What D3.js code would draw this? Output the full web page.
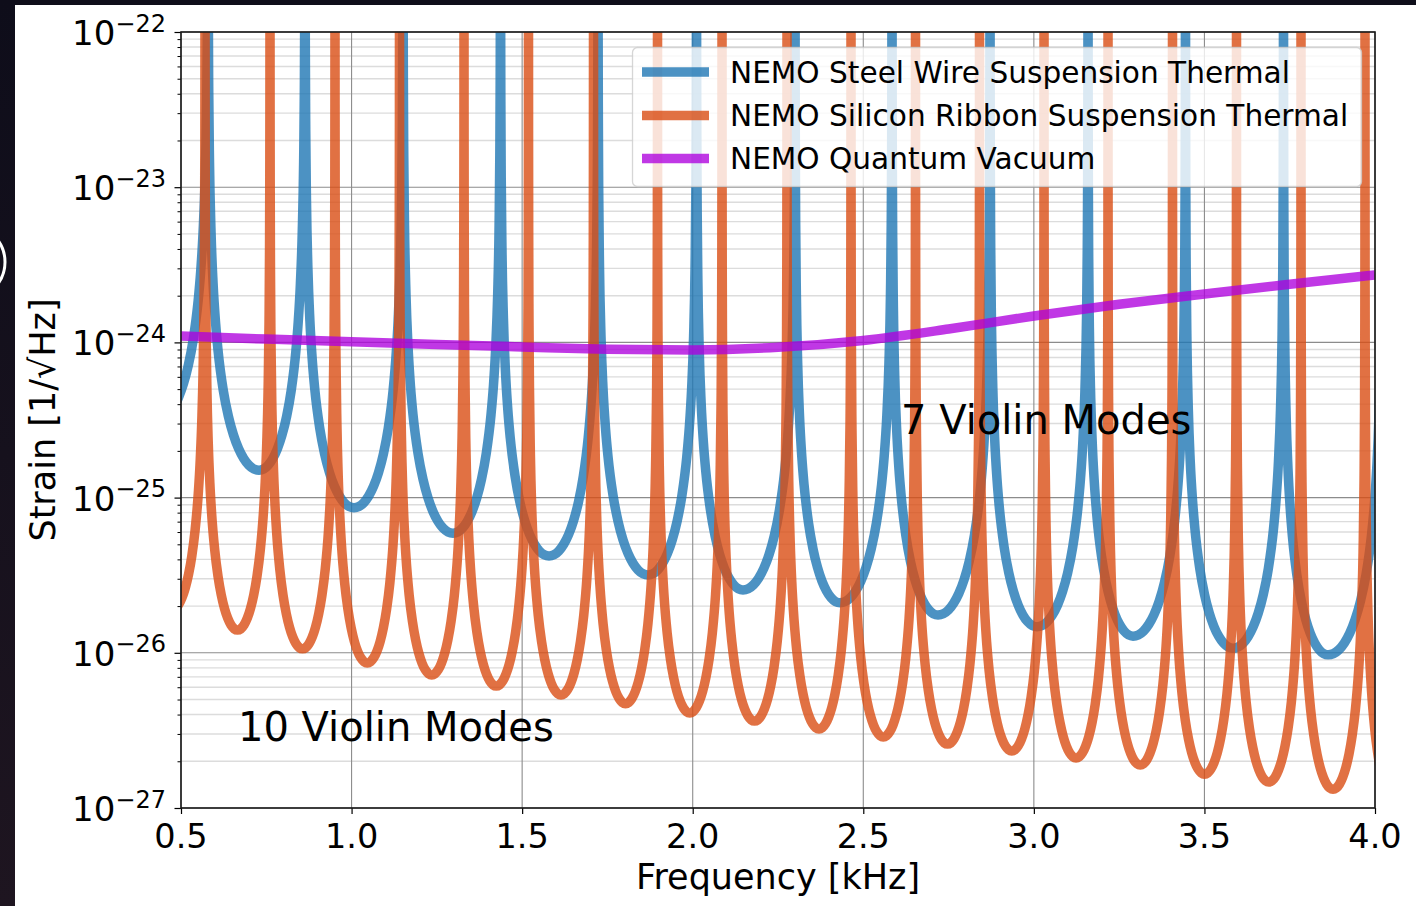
<!DOCTYPE html>
<html>
<head>
<meta charset="utf-8">
<script src="https://cdn.jsdelivr.net/npm/d3@7"></script>
<style>
  html, body { margin: 0; padding: 0; background: #ffffff; }
  svg { display: block; }
  text { font-family: "DejaVu Sans", sans-serif; fill: #000; }
</style>
</head>
<body>
<svg id="chart" width="1416" height="906"></svg>
<script>
// ---- data (frequency in kHz, strain in 1/sqrt(Hz)) ----
// Steel wire violin modes (peak frequencies)
const steelModes = [0.2872, 0.5791, 0.8635, 1.1508, 1.4366, 1.7224, 2.0111, 2.2999, 2.5842, 2.8715, 3.1588, 3.4445, 3.7318, 4.0210];
// Floor between neighbouring steel wire modes
const steelTroughFreq  = [0.435, 0.7287, 1.0071, 1.2973, 1.5788, 1.8690, 2.1474, 2.4318, 2.7191, 3.0093, 3.2907, 3.5839, 3.8624];
const steelTroughValue = [3.2e-25, 1.50e-25, 8.6e-26, 5.9e-26, 4.2e-26, 3.17e-26, 2.54e-26, 2.10e-26, 1.75e-26, 1.47e-26, 1.28e-26, 1.07e-26, 9.7e-27];

// Silicon ribbon violin modes (peak frequencies)
const siliconModes = [0.3781, 0.5704, 0.7609, 0.9514, 1.1405, 1.3296, 1.5186, 1.7092, 1.8968, 2.0859, 2.2764, 2.4640, 2.6531, 2.8407, 3.0298, 3.2174, 3.4064, 3.5940, 3.7831, 3.9707, 4.1591];
const siliconTroughFreq  = [0.474, 0.6656, 0.8562, 1.0460, 1.2350, 1.4241, 1.6139, 1.8030, 1.9913, 2.1811, 2.3702, 2.5586, 2.7469, 2.9352, 3.1236, 3.3119, 3.5002, 3.6886, 3.8769, 4.065];
const siliconTroughValue = [1.9e-26, 1.40e-26, 1.06e-26, 8.6e-27, 7.2e-27, 6.1e-27, 5.35e-27, 4.7e-27, 4.1e-27, 3.63e-27, 3.23e-27, 2.87e-27, 2.58e-27, 2.33e-27, 2.1e-27, 1.89e-27, 1.65e-27, 1.47e-27, 1.32e-27, 1.0e-27];

// Rise above a floor (decades) vs. fraction of the way from the floor to the mode
const lobeFraction = [0, 0.1, 0.2, 0.3, 0.4, 0.5, 0.6, 0.7, 0.8, 0.85, 0.9, 0.94, 0.97, 0.985, 0.993, 0.997, 0.999, 1];
const lobeRise     = [0, 0.008, 0.033, 0.076, 0.139, 0.227, 0.347, 0.514, 0.763, 0.945, 1.204, 1.534, 1.984, 2.435, 2.931, 3.483, 4.199, 6];

// Quantum vacuum noise
const quantumFreq  = [0.5, 0.75, 1.0, 1.25, 1.5, 1.75, 2.0, 2.25, 2.5, 2.75, 3.0, 3.25, 3.5, 3.75, 4.0];
const quantumValue = [1.10e-24, 1.05e-24, 1.01e-24, 0.97e-24, 0.935e-24, 0.905e-24, 0.895e-24, 0.93e-24, 1.03e-24, 1.22e-24, 1.48e-24, 1.76e-24, 2.05e-24, 2.37e-24, 2.72e-24];

// Axis ticks and labels
const xTicks = [0.5, 1.0, 1.5, 2.0, 2.5, 3.0, 3.5, 4.0];
const yExponents = [-22, -23, -24, -25, -26, -27];

const seriesNames = ["NEMO Steel Wire Suspension Thermal", "NEMO Silicon Ribbon Suspension Thermal", "NEMO Quantum Vacuum"];
const seriesColors = ["rgba(31,119,180,0.8)", "rgba(218,78,20,0.8)", "rgba(174,0,222,0.78)"];

// ---- layout ----
const W = 1416, H = 906;
const plot = { left: 181, right: 1375, top: 32, bottom: 808 };

const svg = d3.select("#chart");

// dark frame along the top and left edges
const frameGrad = svg.append("defs").append("linearGradient")
  .attr("id", "frameGrad").attr("x1", 0).attr("y1", 0).attr("x2", 0).attr("y2", 1);
frameGrad.append("stop").attr("offset", "0%").attr("stop-color", "#0e0d1a");
frameGrad.append("stop").attr("offset", "100%").attr("stop-color", "#1e1520");
svg.append("rect").attr("x", 0).attr("y", 0).attr("width", W).attr("height", 5).attr("fill", "#0f0e1a");
svg.append("rect").attr("x", 0).attr("y", 0).attr("width", 15).attr("height", H).attr("fill", "url(#frameGrad)");
svg.append("clipPath").attr("id", "frameClip").append("rect").attr("x", 0).attr("y", 0).attr("width", 15).attr("height", H);
svg.append("circle").attr("cx", -32).attr("cy", 262).attr("r", 37)
  .attr("fill", "none").attr("stroke", "#ffffff").attr("stroke-width", 3)
  .attr("clip-path", "url(#frameClip)");

const x = d3.scaleLinear().domain([0.5, 4.0]).range([plot.left, plot.right]);
const y = d3.scaleLog().domain([1e-27, 1e-22]).range([plot.bottom, plot.top]);

// ---- grid ----
const yMajor = yExponents.map(e => Math.pow(10, e));
const yMinor = [];
yExponents.slice(1).forEach(e => { for (let k = 2; k <= 9; k++) yMinor.push(k * Math.pow(10, e)); });

const grid = svg.append("g");
grid.selectAll("line.minor").data(yMinor).join("line")
  .attr("x1", plot.left).attr("x2", plot.right)
  .attr("y1", d => y(d)).attr("y2", d => y(d))
  .attr("stroke", "#dcdcdc").attr("stroke-width", 1.4);
grid.selectAll("line.ymaj").data(yMajor).join("line")
  .attr("x1", plot.left).attr("x2", plot.right)
  .attr("y1", d => y(d)).attr("y2", d => y(d))
  .attr("stroke", "#8c8c8c").attr("stroke-width", 1.1);
grid.selectAll("line.xmaj").data(xTicks).join("line")
  .attr("x1", d => x(d)).attr("x2", d => x(d))
  .attr("y1", plot.top).attr("y2", plot.bottom)
  .attr("stroke", "#8c8c8c").attr("stroke-width", 1.1);

// ---- curves ----
svg.append("defs").append("clipPath").attr("id", "plotClip")
  .append("rect").attr("x", plot.left).attr("y", plot.top)
  .attr("width", plot.right - plot.left).attr("height", plot.bottom - plot.top);

function lobePoints(modes, troughFreq, troughValue) {
  const pts = [];
  for (let i = 0; i < troughFreq.length; i++) {
    const fl = modes[i], fr = modes[i + 1], ft = troughFreq[i], vt = troughValue[i];
    // rising toward the lower mode (skip the shared mode point after the first lobe)
    for (let j = lobeFraction.length - 1; j >= 0; j--) {
      if (i > 0 && j === lobeFraction.length - 1) continue;
      pts.push([ft - lobeFraction[j] * (ft - fl), vt * Math.pow(10, lobeRise[j])]);
    }
    // rising toward the upper mode
    for (let j = 1; j < lobeFraction.length; j++) {
      pts.push([ft + lobeFraction[j] * (fr - ft), vt * Math.pow(10, lobeRise[j])]);
    }
  }
  return pts;
}

const steelPts = lobePoints(steelModes, steelTroughFreq, steelTroughValue);
const siliconPts = lobePoints(siliconModes, siliconTroughFreq, siliconTroughValue);
const quantumPts = quantumFreq.map((f, i) => [f, quantumValue[i]]);

const line = d3.line()
  .x(d => x(d[0]))
  .y(d => y(Math.min(d[1], 1e-19)))
  .curve(d3.curveMonotoneX);

const curves = svg.append("g").attr("clip-path", "url(#plotClip)");
[steelPts, siliconPts, quantumPts].forEach((pts, i) => {
  curves.append("path").datum(pts)
    .attr("d", line)
    .attr("fill", "none")
    .attr("stroke", seriesColors[i])
    .attr("stroke-width", 9.5)
    .attr("stroke-linejoin", "round");
});

// ---- axes ----
const xAxis = d3.axisBottom(x).tickValues(xTicks).tickFormat("").tickSize(6).tickSizeOuter(0);
svg.append("g").attr("transform", `translate(0,${plot.bottom})`).call(xAxis)
  .call(g => g.select(".domain").remove())
  .call(g => g.selectAll("line").attr("stroke", "#000").attr("stroke-width", 1.2));

const yAxis = d3.axisLeft(y).tickValues(yMajor).tickFormat("").tickSize(6.5).tickSizeOuter(0);
svg.append("g").attr("transform", `translate(${plot.left},0)`).call(yAxis)
  .call(g => g.select(".domain").remove())
  .call(g => g.selectAll("line").attr("stroke", "#000").attr("stroke-width", 1.2));
const yAxisMinor = d3.axisLeft(y).tickValues(yMinor).tickFormat("").tickSize(3.5).tickSizeOuter(0);
svg.append("g").attr("transform", `translate(${plot.left},0)`).call(yAxisMinor)
  .call(g => g.select(".domain").remove())
  .call(g => g.selectAll("line").attr("stroke", "#000").attr("stroke-width", 1));

// frame
svg.append("rect").attr("x", plot.left).attr("y", plot.top)
  .attr("width", plot.right - plot.left).attr("height", plot.bottom - plot.top)
  .attr("fill", "none").attr("stroke", "#1a1a1a").attr("stroke-width", 1.6);

// tick labels
svg.append("g").selectAll("text").data(xTicks).join("text")
  .attr("x", d => x(d)).attr("y", 848)
  .attr("text-anchor", "middle").attr("font-size", 33.5)
  .text(d => d.toFixed(1));

const yLab = svg.append("g").selectAll("text").data(yExponents).join("text")
  .attr("x", 166).attr("y", d => y(Math.pow(10, d)) + 13)
  .attr("text-anchor", "end").attr("font-size", 34);
yLab.append("tspan").text("10");
yLab.append("tspan").attr("dy", -13.5).attr("font-size", 24).text(d => "\u2212" + Math.abs(d));

// axis titles
svg.append("text").attr("x", (plot.left + plot.right) / 2).attr("y", 889)
  .attr("text-anchor", "middle").attr("font-size", 35).text("Frequency [kHz]");
svg.append("text").attr("transform", `translate(55,${(plot.top + plot.bottom) / 2}) rotate(-90)`)
  .attr("text-anchor", "middle").attr("font-size", 35).text("Strain [1/\u221AHz]");

// ---- legend ----
const legend = svg.append("g");
legend.append("rect").attr("x", 632.5).attr("y", 47.5).attr("width", 729).attr("height", 139)
  .attr("rx", 5).attr("fill", "rgba(255,255,255,0.8)").attr("stroke", "rgba(204,204,204,0.8)").attr("stroke-width", 1.3);
const rowY = [72, 115.5, 158.5];
seriesNames.forEach((name, i) => {
  legend.append("line").attr("x1", 642).attr("x2", 709).attr("y1", rowY[i]).attr("y2", rowY[i])
    .attr("stroke", seriesColors[i]).attr("stroke-width", 9.5);
  legend.append("text").attr("x", 730).attr("y", rowY[i] + 10.5)
    .attr("font-size", 29.6).text(name);
});

// ---- annotations ----
svg.append("text").attr("x", 901).attr("y", 434).attr("font-family", "Lato, sans-serif")
  .attr("font-size", 40).text("7 Violin Modes");
svg.append("text").attr("x", 238).attr("y", 741).attr("font-family", "Lato, sans-serif")
  .attr("font-size", 40).text("10 Violin Modes");
</script>
</body>
</html>
